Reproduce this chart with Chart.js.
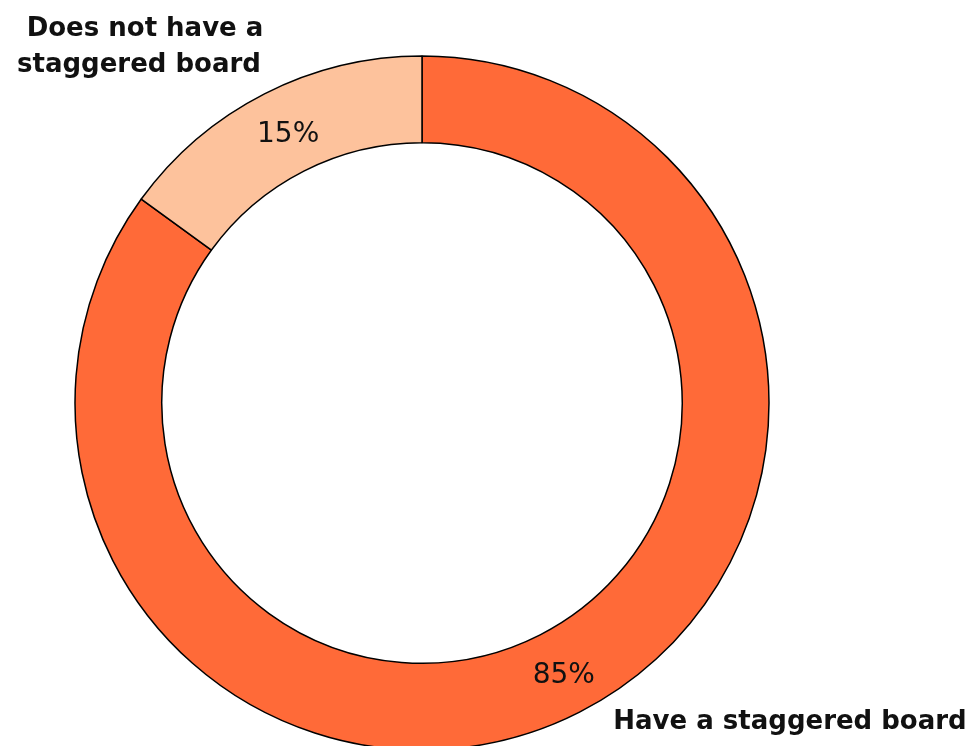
<!DOCTYPE html>
<html>
<head>
<meta charset="utf-8">
<script src="https://cdn.jsdelivr.net/npm/chart.js@4/dist/chart.umd.min.js"></script>
<style>
  html, body { margin: 0; padding: 0; background: #fff; }
  #wrap { width: 974px; height: 746px; }
</style>
</head>
<body>
<div id="wrap"><canvas id="boardChart" width="974" height="746"></canvas></div>
<script>
var categories = ['Have a staggered board', 'Does not have a staggered board'];
var shares = [85, 15];
var sliceColors = ['#FF6A38', '#FDC29C'];

// percentage text in the middle of each ring segment, plus the outside category names
var ringLabels = {
    id: 'ringLabels',
    afterDatasetsDraw: function (chart) {
        var ctx = chart.ctx;
        var arcs = chart.getDatasetMeta(0).data;
        ctx.save();
        ctx.fillStyle = '#111';
        ctx.textAlign = 'center';
        ctx.textBaseline = 'middle';
        ctx.font = '400 28px "DejaVu Sans", sans-serif';
        arcs.forEach(function (arc, i) {
            var p = arc.getCenterPoint();
            ctx.fillText(shares[i] + '%', p.x + 4, p.y + 2);
        });

        ctx.textBaseline = 'alphabetic';
        ctx.font = '700 26px "DejaVu Sans", sans-serif';
        ctx.fillText('Does not have a', 145, 36);
        ctx.fillText('staggered board', 139, 72);
        ctx.fillText(categories[0], 790, 729);
        ctx.restore();
    }
};

document.addEventListener('DOMContentLoaded', function () {
    var ctx = document.getElementById('boardChart').getContext('2d');
    new Chart(ctx, {
        type: 'doughnut',
        data: {
            labels: categories,
            datasets: [{
                data: shares,
                backgroundColor: sliceColors,
                borderColor: '#000',
                borderWidth: 1.5,
                hoverOffset: 0,
                clip: false
            }]
        },
        options: {
            responsive: false,
            animation: false,
            cutout: '75%',
            radius: 347,
            layout: {
                padding: { top: 60, left: 75, right: 205, bottom: 0 }
            },
            plugins: {
                legend: { display: false },
                tooltip: { enabled: false }
            }
        },
        plugins: [ringLabels]
    });
});
</script>
</body>
</html>
